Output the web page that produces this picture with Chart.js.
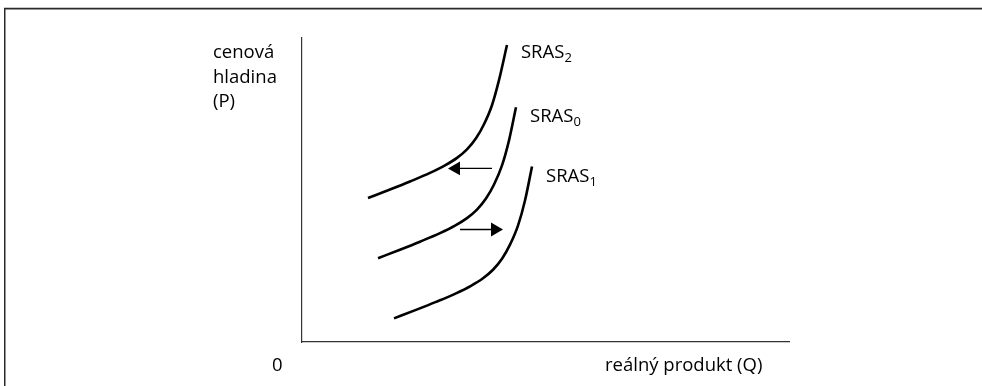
<!DOCTYPE html>
<html>
<head>
<meta charset="utf-8">
<script src="https://cdn.jsdelivr.net/npm/chart.js@4"></script>
<style>
html,body{margin:0;padding:0;background:#fff;}
#wrap{position:relative;width:982px;height:386px;}
</style>
</head>
<body>
<div id="wrap"><canvas id="c" width="982" height="386"></canvas></div>
<script>
const sras2X = [13.55, 18.07, 22.18, 26.28, 29.36, 31.83, 33.88, 35.73, 37.37, 39.01, 40.45, 42.09];
const sras2Y = [47.36, 50.17, 52.81, 55.61, 58.09, 60.56, 63.37, 67.00, 71.62, 77.89, 86.14, 97.69];
const sras0X = [15.61, 20.12, 24.23, 28.34, 31.42, 33.88, 35.93, 37.78, 39.43, 41.07, 42.51, 43.94];
const sras0Y = [27.56, 30.36, 33.00, 35.81, 38.28, 40.76, 43.56, 47.19, 51.82, 58.09, 66.34, 77.23];
const sras1X = [18.89, 23.41, 27.52, 31.62, 34.70, 37.17, 39.22, 41.07, 42.71, 44.35, 45.79, 47.23];
const sras1Y = [7.76, 10.56, 13.20, 16.01, 18.48, 20.96, 23.76, 27.39, 32.01, 38.28, 46.53, 57.76];
const seriesBase = ['SRAS', 'SRAS', 'SRAS'];
const seriesSub = ['2', '0', '1'];
// Shift arrows: [x start, x head], y
const arrowLeftX = [39.01, 31.62];
const arrowLeftY = [57.1, 57.1];
const arrowRightX = [32.44, 39.63];
const arrowRightY = [37.0, 37.0];
const yTitleLines = ['cenová', 'hladina', '(P)'];
const xTitle = 'reálný produkt (Q)';
const originLabel = '0';

const pts = (xs, ys) => xs.map((x, i) => ({x, y: ys[i]}));
const FONT = '"Open Sans", "Noto Sans", sans-serif';

const curveStyle = {
  borderColor: '#000', borderWidth: 2.6, pointRadius: 0, cubicInterpolationMode: 'monotone',
  fill: false, showLine: true
};
const arrowStyle = (rot) => ({
  borderColor: '#000', backgroundColor: '#000', borderWidth: 1.3, showLine: true, tension: 0,
  pointStyle: 'triangle', pointRadius: [0, 8], pointRotation: [0, rot], pointBorderWidth: 0,
  pointHoverRadius: [0, 8]
});

const labelPlugin = {
  id: 'labels',
  afterDatasetsDraw(chart) {
    const ctx = chart.ctx;
    const xs = chart.scales.x, ys = chart.scales.y;
    ctx.save();
    ctx.fillStyle = '#000';
    ctx.textBaseline = 'alphabetic';
    ctx.textAlign = 'left';
    [0, 1, 2].forEach(i => {
      const d = chart.data.datasets[i].data;
      const last = d[d.length - 1];
      const px = xs.getPixelForValue(last.x) + 14;
      const py = ys.getPixelForValue(last.y) + 13 + i * 1.5;
      ctx.font = '18.5px ' + FONT;
      ctx.fillText(seriesBase[i], px, py);
      const w = ctx.measureText(seriesBase[i]).width;
      ctx.font = '13px ' + FONT;
      ctx.fillText(seriesSub[i], px + w, py + 4);
    });
    ctx.font = '18.5px ' + FONT;
    yTitleLines.forEach((t, i) => ctx.fillText(t, 213, 58 + i * 24.5));
    ctx.fillText(originLabel, 272, 371);
    ctx.fillText(xTitle, 605, 371);
    ctx.restore();
  }
};

const framePlugin = {
  id: 'frame',
  beforeDraw(chart) {
    const ctx = chart.ctx;
    ctx.save();
    ctx.fillStyle = '#fff';
    ctx.fillRect(0, 0, chart.width, chart.height);
    ctx.strokeStyle = '#c8c8c8';
    ctx.lineWidth = 1;
    ctx.beginPath(); ctx.moveTo(4, 7.5); ctx.lineTo(982, 7.5); ctx.stroke();
    ctx.strokeStyle = '#2a2a2a';
    ctx.lineWidth = 1.5;
    ctx.beginPath(); ctx.moveTo(4.75, 386); ctx.lineTo(4.75, 8.75); ctx.lineTo(982, 8.75); ctx.stroke();
    ctx.restore();
  }
};

new Chart(document.getElementById('c'), {
  type: 'scatter',
  data: {
    datasets: [
      Object.assign({label: 'SRAS2', data: pts(sras2X, sras2Y)}, curveStyle),
      Object.assign({label: 'SRAS0', data: pts(sras0X, sras0Y)}, curveStyle),
      Object.assign({label: 'SRAS1', data: pts(sras1X, sras1Y)}, curveStyle),
      Object.assign({label: 'shift left', data: pts(arrowLeftX, arrowLeftY)}, arrowStyle(-90)),
      Object.assign({label: 'shift right', data: pts(arrowRightX, arrowRightY)}, arrowStyle(90))
    ]
  },
  options: {
    responsive: false,
    animation: false,
    events: [],
    layout: {padding: {left: 294, top: 38, right: 193, bottom: 36}},
    plugins: {legend: {display: false}, tooltip: {enabled: false}},
    scales: {
      x: {type: 'linear', min: 0, max: 100,
          ticks: {display: false}, grid: {display: false},
          border: {display: true, color: '#333', width: 1.2}},
      y: {type: 'linear', min: 0, max: 100,
          ticks: {display: false}, grid: {display: false},
          border: {display: true, color: '#333', width: 1.2}}
    }
  },
  plugins: [framePlugin, labelPlugin]
});
</script>
</body>
</html>
